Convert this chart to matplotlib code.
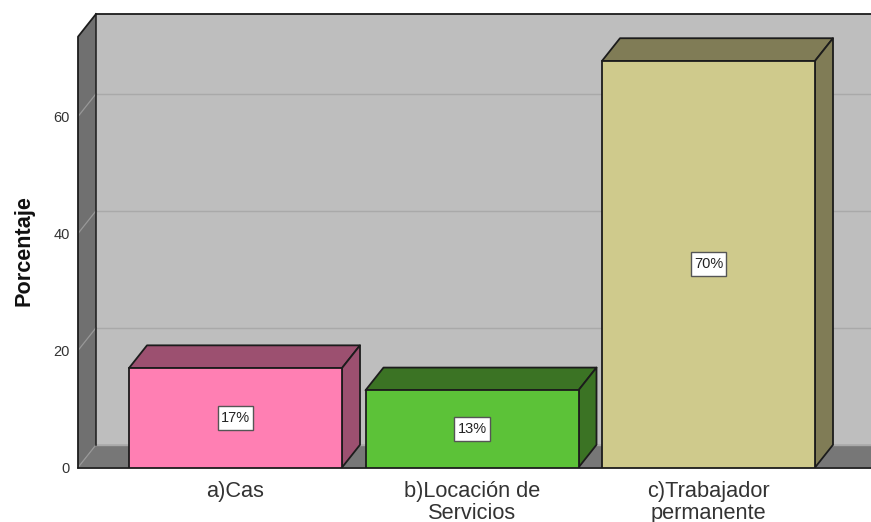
import matplotlib
matplotlib.use("Agg")
import matplotlib.pyplot as plt
from matplotlib.patches import Polygon
from matplotlib.path import Path

categories = ["a)Cas", "b)Locación de\nServicios", "c)Trabajador\npermanente"]
values = [17.0, 13.2, 69.5]
bar_labels = ["17%", "13%", "70%"]
y_ticks = [0, 20, 40, 60]
y_label = "Porcentaje"
face_colors = ["#FF7FB3", "#5CC238", "#CFCA8C"]
side_colors = ["#9C5070", "#3B7324", "#807C56"]

W, H = 871, 522
LEFT, BOTTOM_PX, TOP_PX = 78, 467.5, 14
PX_PER_Y = 5.85
PX_PER_X = 236.5
CENTER0 = 235.5
DX = 18 / PX_PER_X
DY = 22.7 / PX_PER_Y
BAR_W = 213 / PX_PER_X
EDGE = "#1c1c1c"


def label_box(x, y, w, h, mutation_size):
    """Box around a bar label: narrow side padding, taller top and bottom."""
    px, py = 3.2, 5.2
    return Path([(x - px, y - py), (x + w + px, y - py), (x + w + px, y + h + py),
                 (x - px, y + h + py), (x - px, y - py)], closed=True)


plt.rcParams["font.family"] = ["Liberation Sans", "DejaVu Sans"]
fig = plt.figure(figsize=(W / 100, H / 100), dpi=100, facecolor="white")
ax = fig.add_axes([LEFT / W, 1 - BOTTOM_PX / H, (W - LEFT) / W, (BOTTOM_PX - TOP_PX) / H])
x0 = (LEFT - CENTER0) / PX_PER_X
x1 = (W - CENTER0) / PX_PER_X
ytop = (BOTTOM_PX - TOP_PX) / PX_PER_Y
ax.set_xlim(x0, x1)
ax.set_ylim(0, ytop)
for s in ax.spines.values():
    s.set_visible(False)

ax.add_patch(Polygon([(x0 + DX, DY), (x1, DY), (x1, ytop), (x0 + DX, ytop)], fc="#BEBEBE", ec="none", zorder=1))
ax.add_patch(Polygon([(x0, 0), (x0 + DX, DY), (x0 + DX, ytop), (x0, ytop - DY)], fc="#707070", ec="none", zorder=1))
ax.add_patch(Polygon([(x0, 0), (x0 + DX, DY), (x1, DY), (x1, 0)], fc="#777777", ec="none", zorder=1))

for t in y_ticks:
    ax.plot([x0 + DX, x1], [t + DY, t + DY], color="#A9A9A9", lw=1, zorder=2, clip_on=False)
    ax.plot([x0, x0 + DX], [t, t + DY], color="#989898", lw=0.9, zorder=2)

ax.plot([x0 + DX, x1], [ytop, ytop], color=EDGE, lw=1.3, zorder=3, clip_on=False)
ax.plot([x0 + DX, x0 + DX], [DY, ytop], color=EDGE, lw=1.1, zorder=3)
ax.plot([x0, x0, x0 + DX], [0, ytop - DY, ytop], color=EDGE, lw=1.3, zorder=3, clip_on=False)
ax.plot([x0, x1], [0, 0], color=EDGE, lw=1.3, zorder=3, clip_on=False)

xs = list(range(len(values)))
bars = ax.bar(xs, values, width=BAR_W, color=face_colors, edgecolor=EDGE, linewidth=1.3, zorder=5)
for b, side in zip(bars, side_colors):
    l, r, h = b.get_x(), b.get_x() + b.get_width(), b.get_height()
    ax.add_patch(Polygon([(l, h), (l + DX, h + DY), (r + DX, h + DY), (r, h)], fc=side, ec=EDGE, lw=1.3, zorder=4, joinstyle="round"))
    ax.add_patch(Polygon([(r, 0), (r + DX, DY), (r + DX, h + DY), (r, h)], fc=side, ec=EDGE, lw=1.3, zorder=4, joinstyle="round"))

for x, v, lab in zip(xs, values, bar_labels):
    ax.text(x, v / 2, lab, ha="center", va="center", fontsize=10.5, color="#222222", zorder=7,
            bbox=dict(boxstyle=label_box, fc="white", ec="#555555", lw=1))

ax.set_yticks(y_ticks)
ax.set_xticks(xs)
ax.set_xticklabels(categories, fontsize=15.7, color="#333333", linespacing=1.02)
ax.tick_params(axis="x", length=0, pad=10)
ax.tick_params(axis="y", length=0, pad=6, labelsize=10.5, labelcolor="#333333")
ax.set_ylabel(y_label, fontsize=15.6, fontweight="bold", color="#111111")
ax.yaxis.set_label_coords((35 - LEFT) / (W - LEFT), (BOTTOM_PX - 251) / (BOTTOM_PX - TOP_PX))

fig.savefig("out.png", dpi=100, facecolor="white")
